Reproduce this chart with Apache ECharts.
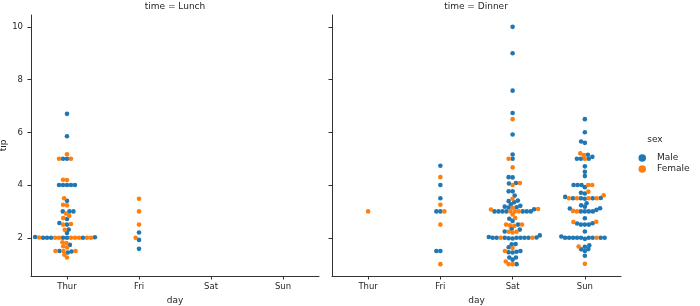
<!DOCTYPE html>
<html>
<head>
<meta charset="utf-8">
<script src="https://cdn.jsdelivr.net/npm/echarts@6/dist/echarts.min.js"></script>
<style>
  html, body { margin: 0; padding: 0; background: #fff; }
  #chart { width: 700px; height: 306px; }
</style>
</head>
<body>
<div id="chart"></div>
<script>
const days = ['Thur', 'Fri', 'Sat', 'Sun'];
const yTicks = [2, 4, 6, 8, 10];

// tips per day/time, in dataset order; sex string: M = Male, F = Female
const thurLunchTip = [4.00, 3.00, 2.71, 3.00, 3.40, 1.83, 5.00, 2.03, 5.17, 2.00, 4.00, 5.85, 3.00,
  1.50, 1.80, 2.92, 2.31, 1.68, 2.50, 2.00, 2.52, 4.20, 1.48, 2.00, 2.00, 2.18, 1.50, 2.83, 1.50, 2.00,
  3.25, 1.25, 2.00, 2.00, 2.00, 2.75, 3.50, 6.70, 5.00, 5.00, 2.30, 1.50, 1.36, 1.63, 1.73, 2.00,
  4.19, 2.56, 2.02, 4.00, 1.44, 2.00, 5.00, 2.00, 2.00, 4.00, 2.01, 2.00, 2.50, 4.00, 3.23];
const thurLunchSex = 'MMMMMFMMFMMMM' + 'FFFMFMMFFMFFMMFFFFFFFMFFMMFFFFFMM' + 'FMMMMMFFMMFFFMF';

const friLunchTip = [2.20, 3.48, 1.92, 3.00, 1.58, 2.50, 2.00];
const friLunchSex = 'MFMFMFF';

const thurDinnerTip = [3.00];
const thurDinnerSex = 'F';

const friDinnerTip = [3.00, 3.50, 1.00, 4.30, 3.25, 4.73, 4.00, 1.50, 3.00, 1.50, 2.50, 3.00];
const friDinnerSex = 'MMFFFMMMMMFF';

const satDinnerTip = [3.35, 4.08, 2.75, 2.23, 7.58, 3.18, 2.34, 2.00, 2.00, 4.30, 3.00, 1.45, 2.50, 3.00,
  2.45, 3.27, 3.60, 2.00, 3.07, 2.31, 5.00, 2.24,
  3.00, 1.50, 1.76, 6.73, 3.21, 2.00, 1.98, 3.76, 2.64, 3.15, 2.47, 1.00, 2.01, 2.09, 1.97, 3.00, 3.14,
  5.00, 2.20, 1.25, 3.08,
  2.50, 3.48, 4.08, 1.64, 4.06, 4.29, 3.76, 4.00, 3.00, 1.00,
  1.61, 2.00, 10.00, 3.16,
  3.41, 3.00, 2.03, 2.23, 2.00, 5.16, 9.00, 2.50, 6.50, 1.10, 3.00, 1.50, 1.44, 3.09,
  3.00, 2.72, 2.88, 2.00, 3.00, 3.39, 1.47, 3.00, 1.25, 1.00, 1.17, 4.67, 5.92, 2.00, 2.00, 1.75];
const satDinnerSex = 'MMFFMMMMMMFMMFFMMMFMMM' + 'MFMMMMMMMMFFMMMFFFFMM' + 'FFFMMMMFMF' + 'FFMM' +
  'MMMFMMMFFFMMMF' + 'MMFMMMMMMMMFMFMM';

const sunDinnerTip = [1.01, 1.66, 3.50, 3.31, 3.61, 4.71, 2.00, 3.12, 1.96, 3.23, 1.71, 5.00, 1.57, 3.00,
  3.02, 3.92, 1.67, 3.71, 3.50,
  2.54, 3.06, 1.32, 5.60, 3.00, 5.00, 6.00, 2.05, 3.00, 2.50, 2.60, 5.20, 1.56, 4.34, 3.51,
  4.00, 2.55, 4.00, 3.50, 5.07,
  2.50, 2.00, 2.74, 2.00, 2.00, 5.14, 5.00, 3.75, 2.61, 2.00, 3.50, 2.50, 2.00, 2.00, 3.00, 3.48, 2.24, 4.50,
  5.15, 3.18, 4.00, 3.11, 2.00, 2.00, 4.00, 3.55, 3.68, 5.65, 3.50, 6.50, 3.00, 5.00, 3.50, 2.00, 3.50, 4.00, 1.50];
const sunDinnerSex = 'FMMMFMMMMMMFMMFMFMF' + 'MMMMMMMMMMFFMMM' + 'MMFFM' + 'MMMMMFMFFMMMFMFMMM' +
  'MMMMMMFMMMMMMMFMFMM';

const panels = [
  { title: 'time = Lunch', groups: [[0, thurLunchTip, thurLunchSex], [1, friLunchTip, friLunchSex]] },
  { title: 'time = Dinner', groups: [[0, thurDinnerTip, thurDinnerSex], [1, friDinnerTip, friDinnerSex],
    [2, satDinnerTip, satDinnerSex], [3, sunDinnerTip, sunDinnerSex]] },
];

const BLUE = '#1f77b4';
const ORANGE = '#ff7f0e';
const FONT = 'DejaVu Sans';
const grids = [
  { left: 31, top: 15, width: 288, height: 261 },
  { left: 332, top: 15, width: 289, height: 261 },
];
const yMin = 0.55, yMax = 10.45;

// swarm layout (same idea as seaborn's beeswarm), in pixels
function beeswarm(ys, d) {
  const order = ys.map((v, i) => i).sort((a, b) => ys[a] - ys[b]);
  const placed = [];
  const out = new Array(ys.length);
  order.forEach((i) => {
    const y = ys[i];
    const near = placed.filter((p) => Math.abs(p.y - y) < d);
    const cands = [0];
    near.forEach((p) => {
      const dx = Math.sqrt(Math.max(d * d - (y - p.y) ** 2, 0)) * 1.05;
      cands.push(p.x - dx, p.x + dx);
    });
    cands.sort((a, b) => Math.abs(a) - Math.abs(b));
    const x = cands.find((c) => near.every((p) => (c - p.x) ** 2 + (y - p.y) ** 2 >= d * d * 0.999));
    placed.push({ x, y });
    out[i] = x;
  });
  return out;
}

const chart = echarts.init(document.getElementById('chart'));

const series = [];
panels.forEach((panel, pi) => {
  const g = grids[pi];
  const kx = g.width / 4;
  const ky = g.height / (yMax - yMin);
  const male = [], female = [];
  panel.groups.forEach(([day, tips, sex]) => {
    const offs = beeswarm(tips.map((t) => t * ky), 3.8);
    tips.forEach((t, i) => {
      const pt = [day + offs[i] / kx, t];
      (sex[i] === 'M' ? male : female).push(pt);
    });
  });
  series.push(
    { name: 'Male', type: 'scatter', xAxisIndex: pi, yAxisIndex: pi, data: male, symbolSize: 4.6,
      itemStyle: { color: BLUE, opacity: 1 }, emphasis: { disabled: true }, silent: true },
    { name: 'Female', type: 'scatter', xAxisIndex: pi, yAxisIndex: pi, data: female, symbolSize: 4.6,
      itemStyle: { color: ORANGE, opacity: 1 }, emphasis: { disabled: true }, silent: true },
  );
});

const axisLine = { show: true, onZero: false, lineStyle: { color: '#333', width: 1 } };
const axisTick = { show: true, length: 3.5, lineStyle: { color: '#333', width: 1 } };
const labelStyle = { color: '#262626', fontFamily: FONT, fontSize: 8.5 };

chart.setOption({
  animation: false,
  backgroundColor: '#fff',
  grid: grids.map((g) => Object.assign({ outerBoundsMode: 'none' }, g)),
  xAxis: grids.map((g, i) => ({
    type: 'value', gridIndex: i, min: -0.5, max: 3.5,
    name: 'day', nameLocation: 'middle', nameGap: 17,
    nameTextStyle: { color: '#262626', fontFamily: FONT, fontSize: 9 },
    axisLine, splitLine: { show: false },
    axisTick: Object.assign({ customValues: [0, 1, 2, 3] }, axisTick),
    axisLabel: Object.assign({ customValues: [0, 1, 2, 3], margin: 6, formatter: (v) => days[Math.round(v)] }, labelStyle),
  })),
  yAxis: grids.map((g, i) => ({
    type: 'value', gridIndex: i, min: yMin, max: yMax,
    name: i === 0 ? 'tip' : '', nameLocation: 'middle', nameGap: 22,
    nameTextStyle: { color: '#262626', fontFamily: FONT, fontSize: 9 },
    axisLine, splitLine: { show: false },
    axisTick: Object.assign({ customValues: yTicks }, axisTick),
    axisLabel: Object.assign({ show: i === 0, customValues: yTicks, margin: 8 }, labelStyle),
  })),
  legend: {
    data: ['Male', 'Female'], orient: 'vertical', left: 633.5, top: 148,
    icon: 'circle', itemWidth: 7.5, itemHeight: 7.5, itemGap: 1, selectedMode: false,
    textStyle: { color: '#262626', fontFamily: FONT, fontSize: 9, lineHeight: 10, padding: [0, 0, 0, 6] },
  },
  graphic: [
    { type: 'text', x: 175, y: 7, style: { text: panels[0].title, align: 'center', verticalAlign: 'middle', fill: '#262626', font: '9px "DejaVu Sans"' } },
    { type: 'text', x: 476, y: 7, style: { text: panels[1].title, align: 'center', verticalAlign: 'middle', fill: '#262626', font: '9px "DejaVu Sans"' } },
    { type: 'text', x: 655, y: 140, style: { text: 'sex', align: 'center', verticalAlign: 'middle', fill: '#262626', font: '9px "DejaVu Sans"' } },
  ],
  series,
});
</script>
</body>
</html>
